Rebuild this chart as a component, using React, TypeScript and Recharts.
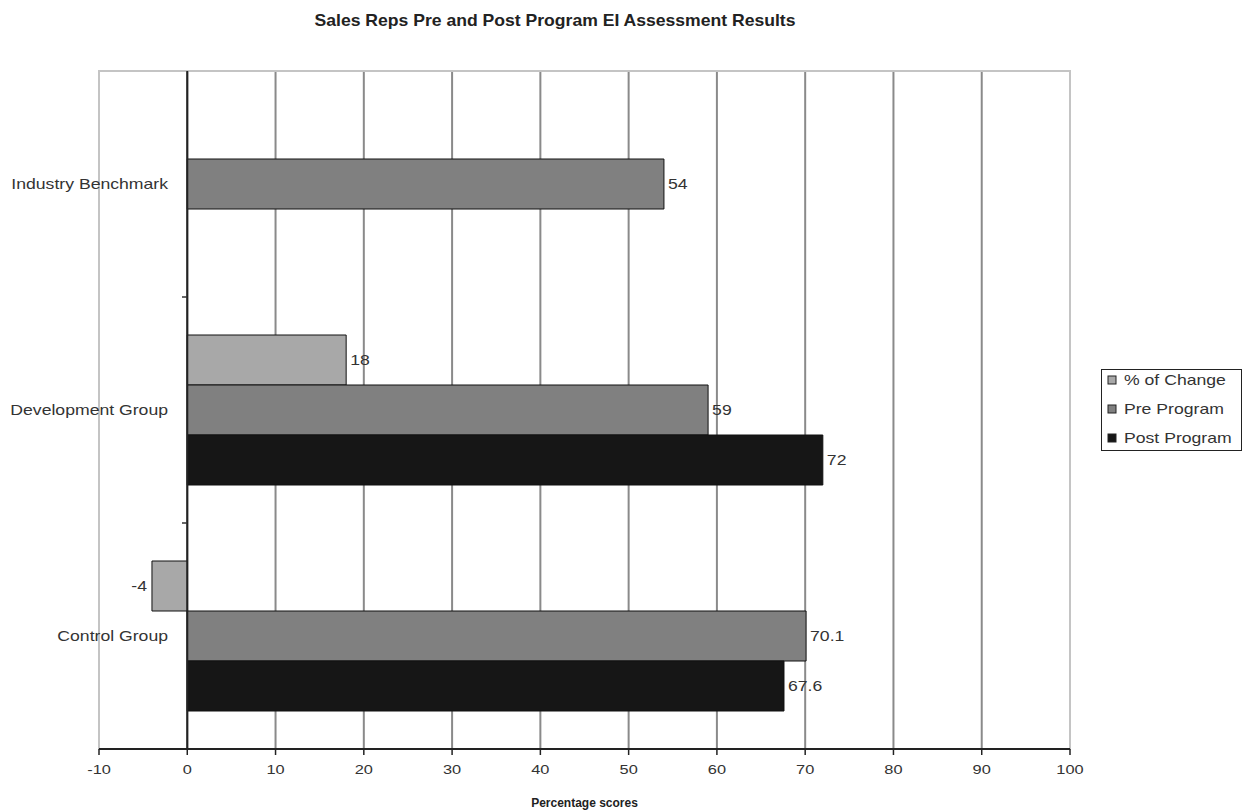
import { BarChart, Bar, XAxis, YAxis, CartesianGrid, ReferenceLine, ReferenceArea, LabelList, Legend } from 'recharts';

const categories = ['Industry Benchmark', 'Development Group', 'Control Group'];
const changeValues: (number | null)[] = [null, 18, -4];
const preValues: (number | null)[] = [54, 59, 70.1];
const postValues: (number | null)[] = [null, 72, 67.6];
const xTicks = [-10, 0, 10, 20, 30, 40, 50, 60, 70, 80, 90, 100];

const series = [
  { key: 'change', name: '% of Change', color: '#a8a8a8' },
  { key: 'pre', name: 'Pre Program', color: '#808080' },
  { key: 'post', name: 'Post Program', color: '#161616' },
];

const data = categories.map((name, i) => ({
  name,
  change: changeValues[i],
  pre: preValues[i],
  post: postValues[i],
}));

const FONT = '"Liberation Sans", Arial, sans-serif';
const STRETCH = 1.26; // the source picture is stretched sideways

const CategoryTick = (props: any) => {
  const { x, y, payload, index } = props;
  return (
    <g>
      <text transform={`translate(${x + 77},${y + 5}) scale(${STRETCH},1)`} textAnchor="end" fontSize={14} fill="#333" fontFamily={FONT}>
        {payload.value}
      </text>
      {index > 0 && <line x1={x + 91} x2={x + 96} y1={y - 113} y2={y - 113} stroke="#333" strokeWidth={1.5} />}
    </g>
  );
};

const ValueTick = (props: any) => {
  const { x, y, payload } = props;
  return (
    <text transform={`translate(${x},${y + 9}) scale(${STRETCH},1)`} textAnchor="middle" fontSize={13} fill="#333" fontFamily={FONT}>
      {payload.value}
    </text>
  );
};

const BarLabel = (props: any) => {
  const { x, y, width, height, value } = props;
  if (value === null || value === undefined) return null;
  const neg = width < 0 || value < 0;
  const tx = neg ? Math.min(x, x + width) - 5 : x + width + 4;
  return (
    <text transform={`translate(${tx},${y + height / 2 + 5}) scale(${STRETCH},1)`} textAnchor={neg ? 'end' : 'start'} fontSize={14} fill="#333" fontFamily={FONT}>
      {value}
    </text>
  );
};

const LegendBox = () => (
  <svg width={141} height={82} style={{ display: 'block' }}>
    <rect x={0.5} y={0.5} width={140} height={81} fill="#fff" stroke="#222" strokeWidth={1} />
    {series.map((s, i) => (
      <g key={s.key}>
        <rect x={7} y={7 + i * 29} width={8} height={8} fill={s.color} stroke="#222" strokeWidth={1} />
        <text transform={`translate(23,${16 + i * 29}) scale(${STRETCH},1)`} fontSize={14} fill="#333" fontFamily={FONT}>
          {s.name}
        </text>
      </g>
    ))}
  </svg>
);

export default function App() {
  return (
    <div style={{ position: 'absolute', left: 0, top: 0, width: 1243, height: 812, background: '#fff' }}>
      <svg width={1243} height={40} style={{ position: 'absolute', left: 0, top: 0 }}>
        <text transform="translate(555,26) scale(1.1,1)" textAnchor="middle" fontSize={16} fontWeight="bold" fill="#222" fontFamily={FONT}>
          Sales Reps Pre and Post Program EI Assessment Results
        </text>
      </svg>
      <BarChart
        width={1243}
        height={812}
        data={data}
        layout="vertical"
        margin={{ top: 71, right: 32, bottom: 0, left: 0 }}
        barGap={0}
        barSize={50}
      >
        <CartesianGrid vertical horizontal={false} stroke="#8a8a8a" strokeWidth={2} />
        <XAxis
          type="number"
          domain={[-10, 100]}
          ticks={xTicks}
          interval={0}
          height={63}
          axisLine={{ stroke: '#222', strokeWidth: 2 }}
          tickLine={{ stroke: '#222', strokeWidth: 1.5 }}
          tickSize={6}
          tickMargin={10}
          tick={<ValueTick />}
          label={{ value: 'Percentage scores', position: 'insideBottom', offset: 5, fontSize: 12, fontWeight: 'bold', fill: '#222', fontFamily: FONT }}
        />
        <YAxis
          type="category"
          dataKey="name"
          width={99}
          axisLine={false}
          tickLine={false}
          tick={<CategoryTick />}
        />
        <ReferenceArea x1={-10} x2={100} fill="none" stroke="#c4c4c4" strokeWidth={2} />
        <ReferenceLine x={0} stroke="#222" strokeWidth={2} />
        {series.map(s => (
          <Bar key={s.key} dataKey={s.key} name={s.name} fill={s.color} stroke="#111" strokeWidth={1} isAnimationActive={false}>
            <LabelList dataKey={s.key} content={<BarLabel />} />
          </Bar>
        ))}
        <Legend layout="vertical" align="right" verticalAlign="middle" content={<LegendBox />} wrapperStyle={{ left: 1101, top: 369, width: 141 }} />
      </BarChart>
    </div>
  );
}
